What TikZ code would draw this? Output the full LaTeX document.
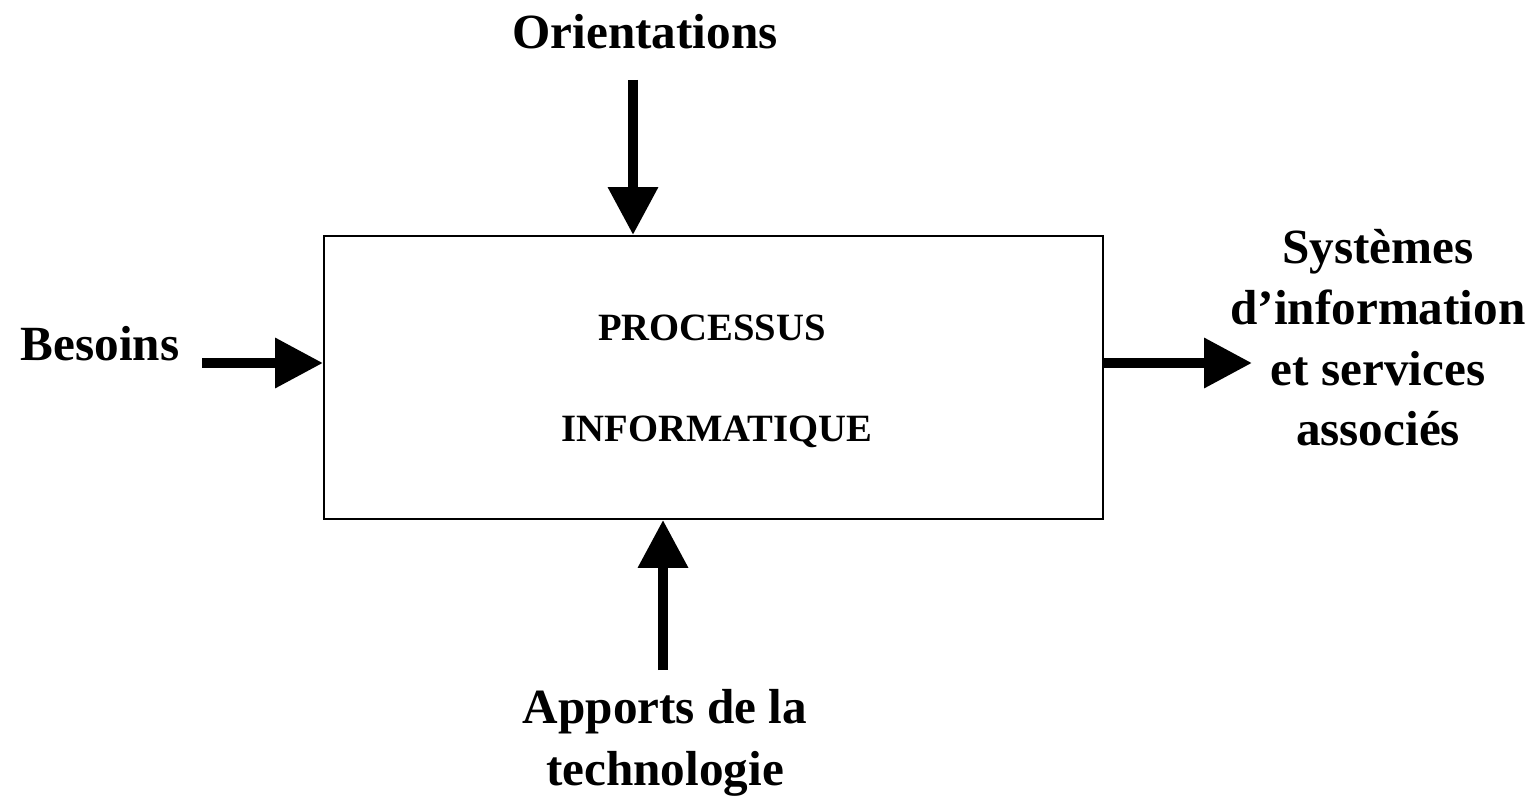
\documentclass[tikz,border=0pt]{standalone}
\usepackage{fontspec}
\usetikzlibrary{arrows.meta}
\setmainfont{Liberation Serif}
\begin{document}
\begin{tikzpicture}[x=0.02cm,y=-0.02cm,
  lbl/.style={font=\fontsize{28}{34}\selectfont\bfseries, inner sep=0pt, align=center},
  inlbl/.style={font=\fontsize{22}{26}\selectfont\bfseries, inner sep=0pt},
  fatarrow/.style={line width=0.2cm, -{Triangle[length=0.96cm,width=0.96cm]}, shorten >=0pt}]
\useasboundingbox (0,0) rectangle (1538,804);
\node[draw, line width=0.04cm, minimum width=15.58cm, minimum height=5.66cm, anchor=north west] (box) at (323,235) {};
\node[inlbl] (p1) at (712,328) {PROCESSUS};
\node[inlbl] (p2) at (717,432) {INFORMATIQUE};
\node[lbl] (orient) at (645,32) {Orientations};
\node[lbl] (besoins) at (100,344) {Besoins};
\node[lbl, font=\fontsize{28}{34.5}\selectfont\bfseries] (sys) at (1378,338) {Systèmes\\d’information\\et services\\associés};
\node[lbl, font=\fontsize{28}{35.5}\selectfont\bfseries] (apports) at (665,743) {Apports de la\\technologie};
\coordinate (oA) at (633,80);
\coordinate (bA) at (202,363);
\coordinate (rB) at (1252,363);
\coordinate (aA) at (663,670);
\draw[fatarrow] (oA) -- (oA |- box.north);
\draw[fatarrow] (bA) -- (bA -| box.west);
\draw[fatarrow] (bA -| box.east) -- (rB);
\draw[fatarrow] (aA) -- (aA |- box.south);
\end{tikzpicture}
\end{document}
